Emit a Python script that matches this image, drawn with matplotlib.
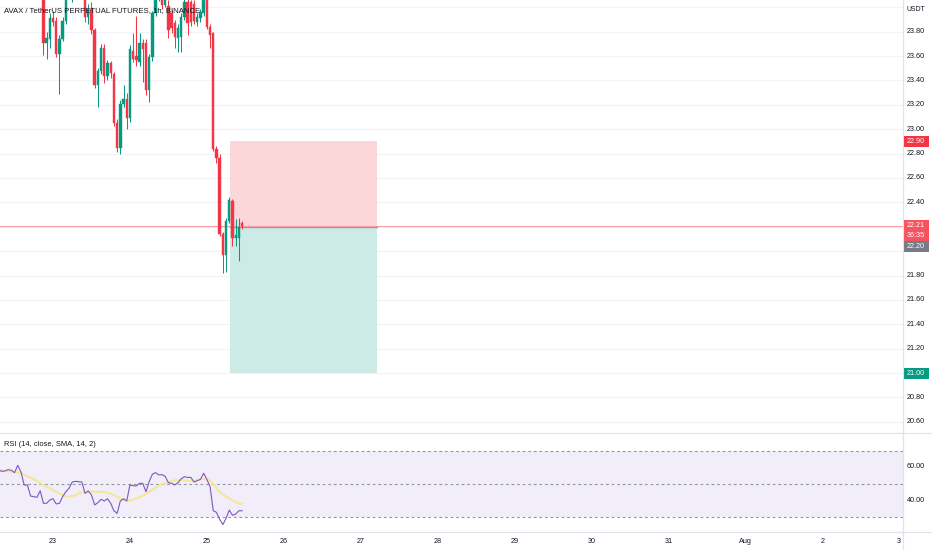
import matplotlib
matplotlib.use('Agg')
import matplotlib.pyplot as plt
from matplotlib import font_manager
from matplotlib.patches import Rectangle
from matplotlib.lines import Line2D
from matplotlib.transforms import blended_transform_factory
import numpy as np

names = {f.name for f in font_manager.fontManager.ttflist}
if 'Liberation Sans Narrow' in names:
    FONT = 'Liberation Sans Narrow'
elif 'Liberation Sans' in names:
    FONT = 'Liberation Sans'
else:
    FONT = 'DejaVu Sans'
plt.rcParams['font.family'] = [FONT, 'DejaVu Sans']

# ---------------- data ----------------
title = "AVAX / TetherUS PERPETUAL FUTURES, 1h, BINANCE"
rsi_title = "RSI (14, close, SMA, 14, 2)"
currency = "USDT"

# time axis: hours since 22 Jul 21:00
day_tick_hours = [3, 27, 51, 75, 99, 123, 147, 171, 195, 219, 243, 267]
day_labels = ['23', '24', '25', '26', '27', '28', '29', '30', '31', 'Aug', '2', '3']

candle_hours = list(range(0, 63))
opens = [24.16, 23.71, 23.74, 23.91, 23.89, 23.62, 23.74, 23.89, 24.10, 24.22,
         24.32, 24.34, 24.32, 24.30, 23.92, 23.99, 23.81, 23.36, 23.48, 23.67,
         23.44, 23.54, 23.45, 23.05, 22.85, 23.21, 23.25, 23.09, 23.64, 23.60,
         23.55, 23.71, 23.71, 23.32, 23.59, 23.95, 24.14, 24.12, 24.02, 24.01,
         23.95, 23.87, 23.75, 23.76, 23.92, 24.04, 24.04, 24.03, 23.88, 23.91,
         23.95, 24.10, 23.84, 23.79, 22.84, 22.76, 22.14, 21.97, 22.25, 22.41,
         22.11, 22.11, 22.23]
highs = [24.22, 23.80, 23.95, 23.97, 23.92, 23.77, 23.92, 24.14, 24.26, 24.36,
         24.40, 24.38, 24.36, 24.33, 24.03, 24.04, 23.83, 23.50, 23.70, 23.70,
         23.57, 23.56, 23.47, 23.08, 23.24, 23.36, 23.30, 23.69, 23.79, 23.93,
         23.79, 23.74, 23.74, 23.62, 23.97, 24.18, 24.26, 24.20, 24.14, 24.06,
         23.98, 23.90, 23.86, 23.95, 24.08, 24.07, 24.06, 24.06, 23.95, 23.99,
         24.14, 24.15, 23.86, 23.80, 22.86, 22.80, 22.16, 22.27, 22.44, 22.43,
         22.26, 22.27, 22.25]
lows = [23.61, 23.58, 23.67, 23.85, 23.59, 23.29, 23.72, 23.86, 24.07, 24.04,
        24.25, 24.26, 24.22, 23.88, 23.86, 23.78, 23.34, 23.18, 23.45, 23.38,
        23.40, 23.42, 23.03, 22.81, 22.80, 23.18, 23.00, 23.06, 23.55, 23.52,
        23.52, 23.39, 23.28, 23.22, 23.56, 23.93, 24.05, 23.99, 24.00, 23.75,
        23.79, 23.67, 23.63, 23.63, 23.90, 23.77, 23.85, 23.86, 23.85, 23.88,
        23.93, 23.82, 23.67, 22.82, 22.72, 22.12, 21.82, 21.83, 22.23, 22.04,
        22.04, 21.92, 22.18]
closes = [23.71, 23.75, 23.91, 23.88, 23.62, 23.74, 23.89, 24.10, 24.22, 24.32,
          24.34, 24.32, 24.30, 23.92, 23.99, 23.81, 23.36, 23.48, 23.67, 23.44,
          23.54, 23.46, 23.05, 22.85, 23.21, 23.25, 23.09, 23.66, 23.58, 23.57,
          23.71, 23.66, 23.32, 23.59, 23.95, 24.14, 24.20, 24.02, 24.08, 23.81,
          23.83, 23.76, 23.83, 23.92, 24.04, 23.87, 23.88, 23.89, 23.92, 23.96,
          24.10, 23.84, 23.77, 22.84, 22.76, 22.14, 21.97, 22.25, 22.42, 22.11,
          22.13, 22.20, 22.21]

rsi_hours = list(range(-14, 63))
rsi_values = [58.2, 57.4, 57.6, 58.4, 58.0, 56.6, 61.0, 57.0, 49.1, 49.1,
              42.4, 42.0, 41.6, 45.6,
              38.0, 38.0, 40.0, 40.8, 37.6, 38.0, 42.0, 45.0, 47.1, 50.9,
              51.3, 51.1, 50.9, 44.0, 45.5, 43.0, 37.0, 38.4, 40.4, 39.4,
              40.8, 38.0, 33.5, 31.9,
              39.4, 40.8, 39.4, 49.1, 48.7, 48.5, 50.1, 50.1, 45.0, 51.1,
              55.6, 56.6, 55.2, 55.4, 54.3, 50.5, 50.1, 49.1, 50.5, 52.9,
              54.1, 53.7, 53.7, 50.9, 51.7, 52.5, 56.2, 52.5, 48.1, 33.5,
              32.5, 28.3, 25.1, 28.9, 33.9, 30.7, 31.5, 33.5, 33.5]
rsi_ma_values = [57.9, 57.8, 57.6, 57.4, 57.2, 57.0, 56.6, 56.0, 55.4, 54.4,
                 53.6, 52.6, 51.6, 50.3,
                 49.1, 48.1, 47.1, 46.1, 45.0, 44.0, 43.0, 42.2, 42.0, 42.4,
                 43.0, 44.0, 44.6, 45.0, 45.0, 45.0, 45.0, 45.0, 45.0, 44.8,
                 44.4, 43.8, 43.0, 42.2,
                 41.0, 40.0, 39.4, 39.8, 40.4, 41.0, 41.6, 42.6, 43.8, 45.0,
                 46.3, 47.5, 48.7, 49.7, 50.3, 50.9, 51.5, 51.9, 52.1, 52.1,
                 51.9, 51.7, 51.7, 51.7, 52.1, 52.5, 52.9, 52.9, 51.7, 49.7,
                 47.5, 45.0, 43.4, 42.2, 40.8, 39.8, 38.8, 38.0, 37.4]

price_ticks = [23.80, 23.60, 23.40, 23.20, 23.00, 22.80, 22.60, 22.40,
               21.80, 21.60, 21.40, 21.20, 20.80, 20.60]
grid_prices = [24.00, 23.80, 23.60, 23.40, 23.20, 23.00, 22.80, 22.60, 22.40,
               22.20, 22.00, 21.80, 21.60, 21.40, 21.20, 21.00, 20.80, 20.60]
rsi_ticks = [60, 40]
rsi_bands = [70, 50, 30]

# position tool
entry_price = 22.20
stop_price = 22.90
target_price = 21.00
position_start_hour = 58.2
position_end_hour = 104.1
last_price = 22.21
countdown = "36:35"

# ---------------- styles ----------------
UP = '#089981'
DOWN = '#f23645'
TXT = '#131722'
SEP = '#e0e3eb'
GRID = '#f0f3fa'
TITLE_FS = 5.6
RSI_FS = 5.4
NUM_FS = 5.2
DAY_FS = 5.2

W, H = 932, 550
fig = plt.figure(figsize=(W / 100, H / 100), dpi=100)
fig.patch.set_facecolor('white')

plot_right = 903
main_top, main_bot = 0, 433
rsi_top, rsi_bot = 433, 532

ax = fig.add_axes([0, 1 - main_bot / H, plot_right / W, (main_bot - main_top) / H])
ax2 = fig.add_axes([0, 1 - rsi_bot / H, plot_right / W, (rsi_bot - rsi_top) / H], sharex=ax)

px_per_unit = 121.9
y_top = 23.80 + 31.7 / px_per_unit
y_bot = y_top - (main_bot - main_top) / px_per_unit
ax.set_ylim(y_bot, y_top)
x_left = -43.4 / 3.205
x_right = (plot_right - 43.4) / 3.205
ax.set_xlim(x_left, x_right)

for a in (ax, ax2):
    a.set_facecolor('white')
    for s in ('top', 'left'):
        a.spines[s].set_visible(False)
    a.spines['right'].set_color(SEP)
    a.spines['bottom'].set_color(SEP)
    a.spines['right'].set_linewidth(0.8)
    a.spines['bottom'].set_linewidth(0.8)
    a.tick_params(left=False, right=False, labelleft=False, labelright=False)

ax.tick_params(bottom=False, labelbottom=False)

# grid
for gp in grid_prices:
    ax.axhline(gp, color=GRID, lw=0.8, zorder=0)

# position boxes
ax.add_patch(Rectangle((position_start_hour, entry_price),
                       position_end_hour - position_start_hour, stop_price - entry_price,
                       facecolor='#fcd7da', edgecolor='none', zorder=1))
ax.add_patch(Rectangle((position_start_hour, target_price),
                       position_end_hour - position_start_hour, entry_price - target_price,
                       facecolor='#cdebe6', edgecolor='none', zorder=1))
ax.plot([position_start_hour, position_end_hour], [entry_price, entry_price],
        color='#9598a1', lw=1.0, zorder=2)

# last price line
ax.axhline(last_price, color='#f7a0a8', lw=0.8, zorder=2)

# candles
body_w = 0.74
for t, o, h, l, c in zip(candle_hours, opens, highs, lows, closes):
    col = UP if c >= o else DOWN
    ax.plot([t, t], [l, h], color=col, lw=0.75, zorder=3, solid_capstyle='butt')
    lo, hi = min(o, c), max(o, c)
    ax.add_patch(Rectangle((t - body_w / 2, lo), body_w, max(hi - lo, 0.008),
                           facecolor=col, edgecolor=col, lw=0.3, zorder=4))

# title
ax.text(4 / plot_right, 1 - 11 / main_bot, title, transform=ax.transAxes,
        ha='left', va='center', fontsize=TITLE_FS, color=TXT, zorder=6)

# right price scale
tr = blended_transform_factory(ax.transAxes, ax.transData)
xc = 1 + 12.5 / plot_right
for p in price_ticks:
    ax.text(xc, p, f"{p:.2f}", transform=tr, ha='center', va='center',
            fontsize=NUM_FS, color=TXT, clip_on=False, zorder=5)
ax.text(xc, y_top - 9 / px_per_unit, currency, transform=tr, ha='center', va='center',
        fontsize=NUM_FS * 0.95, color=TXT, clip_on=False)

bw = 26 / plot_right


def label_box(y_center_px_offset, price, height_px, color, lines, text_color='white'):
    yc = price - y_center_px_offset / px_per_unit
    hh = height_px / 2 / px_per_unit
    ax.add_patch(Rectangle((1.0, yc - hh), bw, 2 * hh, transform=tr, facecolor=color,
                           edgecolor='none', clip_on=False, zorder=7))
    n = len(lines)
    for i, s in enumerate(lines):
        off = (i - (n - 1) / 2) * 10 / px_per_unit
        ax.text(xc, yc - off, s, transform=tr, ha='center', va='center', fontsize=NUM_FS,
                color=text_color, clip_on=False, zorder=8)


label_box(0, stop_price, 11, '#f23645', [f"{stop_price:.2f}"])
label_box(4.5, last_price, 21, '#f7525f', [f"{last_price:.2f}", countdown])
label_box(20, entry_price, 11, '#787b86', [f"{entry_price:.2f}"])
label_box(0, target_price, 11, UP, [f"{target_price:.2f}"])

# ---------------- RSI pane ----------------
rsi_px = 1.65
r_top = 70 + (450.5 - rsi_top) / rsi_px
r_bot = 30 - (rsi_bot - 516.5) / rsi_px
ax2.set_ylim(r_bot, r_top)
ax2.axhspan(rsi_bands[2], rsi_bands[0], color='#f1edf9', zorder=0, lw=0)
for b in rsi_bands:
    ax2.axhline(b, color='#9598a1', lw=0.8, ls=(0, (2.5, 2.5)), zorder=1)
ax2.plot(rsi_hours, rsi_ma_values, color='#f3e89a', lw=1.5, zorder=2)
ax2.plot(rsi_hours, rsi_values, color='#7e57c2', lw=0.8, zorder=3)
ax2.text(4 / plot_right, 1 - 12 / (rsi_bot - rsi_top), rsi_title, transform=ax2.transAxes,
         ha='left', va='center', fontsize=RSI_FS, color=TXT)
tr2 = blended_transform_factory(ax2.transAxes, ax2.transData)
for r in rsi_ticks:
    ax2.text(xc, r, f"{r:.2f}", transform=tr2, ha='center', va='center', fontsize=NUM_FS,
             color=TXT, clip_on=False)

ax2.set_xticks(day_tick_hours)
ax2.set_xticklabels(day_labels, fontsize=DAY_FS, color=TXT)
ax2.tick_params(axis='x', length=0, pad=4)

# separators extending across price scale
fig.add_artist(Line2D([0, 1], [1 - rsi_bot / H, 1 - rsi_bot / H], color=SEP, lw=0.8))
fig.add_artist(Line2D([0, 1], [1 - main_bot / H, 1 - main_bot / H], color=SEP, lw=0.8))
fig.add_artist(Line2D([plot_right / W, plot_right / W], [0, 1], color=SEP, lw=0.8))

fig.savefig('out.png', dpi=100, facecolor='white')
